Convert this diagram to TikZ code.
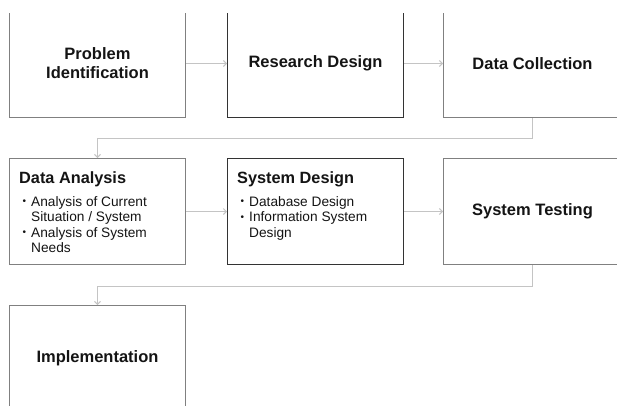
\documentclass[tikz,border=0pt]{standalone}
\usepackage{fontspec}
\setmainfont{Liberation Sans}
\usetikzlibrary{arrows.meta}
\definecolor{boxgray}{HTML}{808080}
\definecolor{boxdark}{HTML}{333333}
\definecolor{arrowgray}{HTML}{C4C4C4}
\definecolor{txt}{HTML}{141414}
\begin{document}
\begin{tikzpicture}[x=1pt,y=-1pt,
  stagebox/.style={draw=boxgray,line width=1pt,rectangle,anchor=north west,inner sep=0pt,
    minimum width=176pt,text=txt,align=center,font=\fontsize{16.5}{19}\selectfont\bfseries},
  darkbox/.style={stagebox,draw=boxdark},
  flow/.style={draw=arrowgray,line width=1pt,-{Straight Barb[length=3pt,width=6pt]}},
  head/.style={anchor=base west,inner sep=0pt,text=txt,font=\fontsize{16.3}{19}\selectfont\bfseries},
  item/.style={anchor=base west,inner sep=0pt,text=txt,font=\fontsize{13.7}{16}\selectfont},
  dot/.style={anchor=base west,inner sep=0pt,text=txt,font=\fontsize{10}{11}\selectfont}]
\useasboundingbox (0,0) rectangle (617,405);
\clip (0,13) rectangle (617,405);
% row 1
\node[stagebox,minimum height=108pt] (pi) at (9,9) {Problem\\Identification};
\node[darkbox,minimum height=108pt] (rd) at (227,9) {Research Design};
\node[stagebox,minimum height=108pt,minimum width=178pt] (dc) at (443,9) {Data Collection};
% row 2
\node[stagebox,minimum height=106pt] (da) at (9,158) {};
\node[darkbox,minimum height=106pt] (sd) at (227,158) {};
\node[stagebox,minimum height=106pt,minimum width=178pt] (st) at (443,158) {System Testing};
% row 3
\node[stagebox,minimum height=106pt] (im) at (9,305) {Implementation};
% texts of list boxes
\node[head] (dah) at (19,183) {Data Analysis};
\node[dot] (dab1) at (22.5,204.5) {•};
\node[item] (da1) at (31,206) {Analysis of Current};
\node[item] (da2) at (31,221.5) {Situation / System};
\node[dot] (dab2) at (22.5,235.5) {•};
\node[item] (da3) at (31,237) {Analysis of System};
\node[item] (da4) at (31,252.5) {Needs};
\node[head] (sdh) at (237,183) {System Design};
\node[dot] (sdb1) at (240.5,204.5) {•};
\node[item] (sd1) at (249,206) {Database Design};
\node[dot] (sdb2) at (240.5,220) {•};
\node[item] (sd2) at (249,221.5) {Information System};
\node[item] (sd3) at (249,237) {Design};
% connectors
\draw[flow] (pi.east) -- (rd.west);
\draw[flow] (rd.east) -- (dc.west);
\draw[flow] (dc.south) -- ++(0,20) -| (da.north);
\draw[flow] (da.east) -- (sd.west);
\draw[flow] (sd.east) -- (st.west);
\draw[flow] (st.south) -- ++(0,21) -| (im.north);
\end{tikzpicture}
\end{document}
